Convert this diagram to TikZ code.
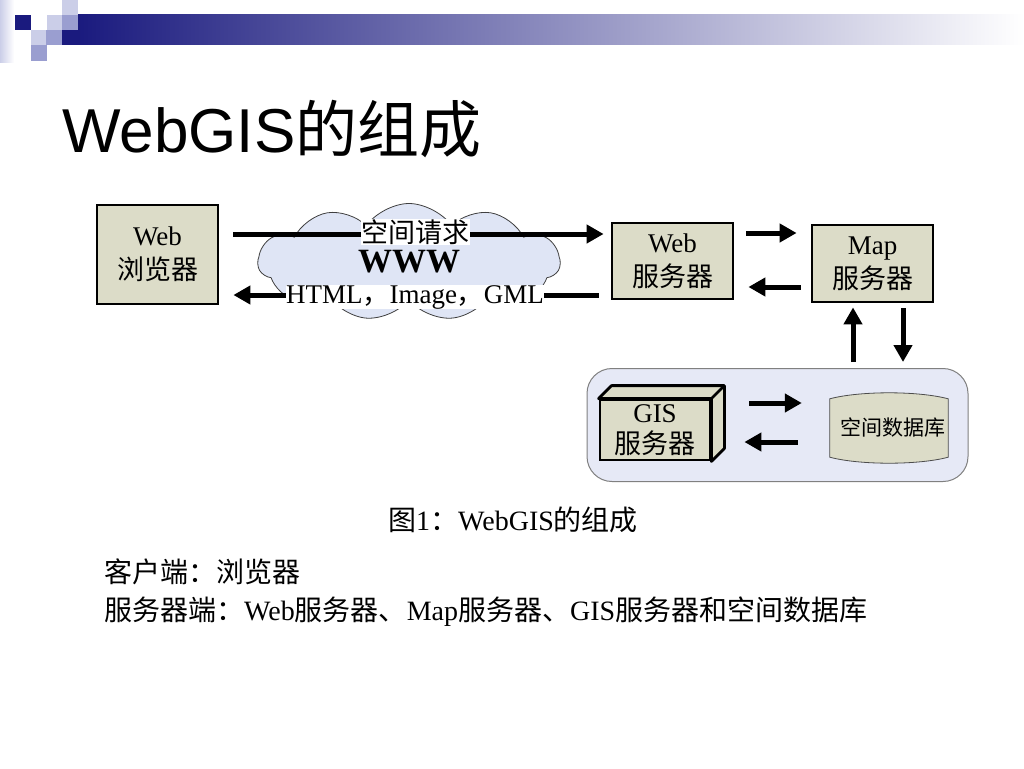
\documentclass[tikz,border=0pt]{standalone}
\usepackage{fontspec}
\setmainfont{Liberation Serif}
\newfontfamily\titlefont{Liberation Sans}
\newfontfamily\cjk{Noto Sans CJK SC}
\usepackage{xcolor}
\usetikzlibrary{arrows.meta,shapes.symbols}
\definecolor{folie-navy}{HTML}{1A1A7E}
\definecolor{folie-blau60}{HTML}{9A9ED0}
\definecolor{folie-blau30}{HTML}{CBCEE8}
\definecolor{folie-blau15}{HTML}{E6E9F6}
\definecolor{wolke}{HTML}{DFE5F5}
\definecolor{kasten}{HTML}{DCDCC8}

\newcommand{\zh}[1]{{\cjk #1}}

\begin{document}
\begin{tikzpicture}[x=1pt,y=-1pt,
    srvbox/.style={draw=black, line width=2.8pt, fill=kasten, minimum width=121pt,
        minimum height=99pt, align=center, inner sep=0pt,
        font=\fontsize{27}{34}\selectfont},
    flow/.style={line width=5pt, -{Triangle[length=17pt,width=18pt]}},
    arrowtag/.style={fill=white, inner sep=0.5pt, font=\fontsize{27}{30}\selectfont},
    plain/.style={anchor=west, inner sep=0pt, font=\fontsize{28}{30}\selectfont}]

\useasboundingbox (0,0) rectangle (1024,768);
\fill[white] (0,0) rectangle (1024,768);

% Kopfleiste
\fill[left color=folie-blau30, right color=white] (0,0) rectangle (14,62);
\fill[left color=folie-navy, right color=white] (77,15) rectangle (1024,45);
\foreach \x/\y/\farbe in {15/15/folie-navy, 47/15/folie-blau30, 62/0/folie-blau30,
    62/15/folie-blau60, 31/30/folie-blau30, 46/30/folie-blau60, 62/30/folie-navy,
    31/45/folie-blau60} {
    \fill[\farbe] (\x,\y) rectangle ++(15.5,15.5);
}

\node[anchor=base west, inner sep=0pt, font=\titlefont\fontsize{62}{62}\selectfont]
    (title) at (62,152) {WebGIS\zh{的组成}};

% Internet
\node[cloud, cloud puffs=11, cloud puff arc=110, cloud ignores aspect, draw=black!75,
    line width=0.8pt, fill=wolke, minimum width=302pt, minimum height=117pt,
    inner sep=0pt, font=\fontsize{34}{34}\selectfont\bfseries] (www) at (409,262) {WWW};

\node[srvbox] (browser) at (157.5,254.5) {Web\\\zh{浏览器}};
\node[srvbox, minimum height=76pt] (websrv) at (672.5,261) {Web\\\zh{服务器}};
\node[srvbox, minimum height=77pt] (mapsrv) at (872.5,263.5) {Map\\\zh{服务器}};

% Serverseite
\node[draw=black!50, line width=1pt, fill=folie-blau15, rounded corners=25pt,
    minimum width=381pt, minimum height=113pt] (panel) at (777.5,425) {};

\node[srvbox, minimum width=110pt, minimum height=60pt, font=\fontsize{27}{31}\selectfont]
    (gis) at (655,430) {GIS\\\zh{服务器}};
\filldraw[fill=kasten, line width=2.8pt, line join=round] (gis.north west) -- ++(13,-13)
    -- ([shift={(13,-13)}]gis.north east) -- ([shift={(13,-13)}]gis.south east)
    -- (gis.south east) -- (gis.north east) -- cycle;
\draw[line width=2.8pt] (gis.north east) -- ++(13,-13);

\node[minimum width=118pt, minimum height=58pt, inner sep=0pt] (db) at (889,428) {};
\filldraw[fill=kasten, draw=black!70, line width=0.8pt]
    (db.north west) .. controls +(30,-8) and +(-30,-8) .. (db.north east)
    -- (db.south east) .. controls +(-30,8) and +(30,8) .. (db.south west) -- cycle;
\node[inner sep=0pt, font=\fontsize{21}{21}\selectfont\cjk] (dblabel)
    at ([xshift=4pt]db.center) {空间数据库};

% Pfeile
\draw[flow, shorten <=14pt, shorten >=7pt] ([yshift=20.5pt]browser.east)
    -- node[arrowtag, yshift=2pt] (req) {\zh{空间请求}} ([yshift=27pt]websrv.west);
\draw[flow, shorten <=12pt, shorten >=14pt] ([yshift=-34pt]websrv.west)
    -- node[arrowtag, yshift=-2pt] (resp) {HTML\zh{，}Image\zh{，}GML} ([yshift=-40.5pt]browser.east);

\draw[flow, shorten <=12pt, shorten >=14pt] ([yshift=28pt]websrv.east) -- ([yshift=30.5pt]mapsrv.west);
\draw[flow, shorten <=10pt, shorten >=14pt] ([yshift=-23.5pt]mapsrv.west) -- ([yshift=-26pt]websrv.east);

\draw[flow, shorten <=6pt, shorten >=4pt] ([xshift=75.5pt]panel.north) -- ([xshift=-19.5pt]mapsrv.south);
\draw[flow, shorten <=5pt, shorten >=6pt] ([xshift=30.5pt]mapsrv.south) -- ([xshift=125.5pt]panel.north);

\draw[flow, shorten <=38pt, shorten >=28pt] ([yshift=27pt]gis.east) -- ([yshift=25pt]db.west);
\draw[flow, shorten <=32pt, shorten >=33pt] ([yshift=-14pt]db.west) -- ([yshift=-12pt]gis.east);

% Text unten
\node[plain] (caption) at (388,520) {\zh{图}1\zh{：}WebGIS\zh{的组成}};
\node[plain] (client) at (104,572) {\zh{客户端：浏览器}};
\node[plain] (server) at (104,612)
    {\zh{服务器端：}Web\zh{服务器、}Map\zh{服务器、}GIS\zh{服务器和空间数据库}};

\end{tikzpicture}
\end{document}
